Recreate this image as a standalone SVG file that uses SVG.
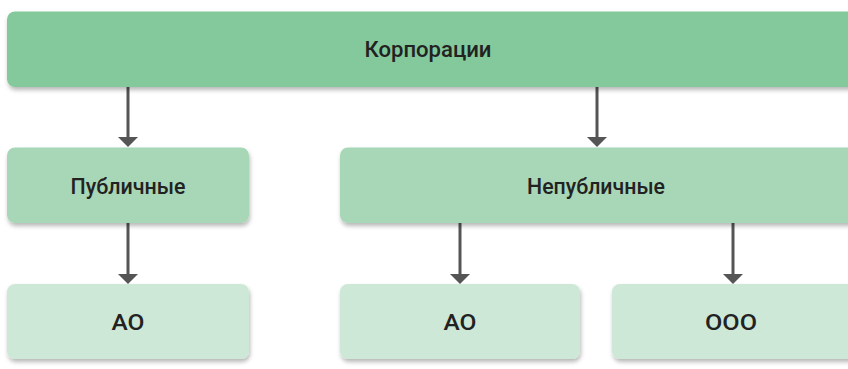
<svg xmlns="http://www.w3.org/2000/svg" width="848" height="369" viewBox="0 0 848 369">
  <defs>
    <filter id="sh" x="-5%" y="-10%" width="110%" height="130%">
      <feDropShadow dx="1" dy="3" stdDeviation="2" flood-color="#000" flood-opacity="0.28"/>
    </filter>
    <style>
      .n1 { fill: #83c99b; }
      .n2 { fill: #a8d7b7; }
      .n3 { fill: #cde8d6; }
      .box { filter: url(#sh); }
      .t { font-family: "Roboto", "Liberation Sans", sans-serif; font-size: 21.5px; font-weight: 500; fill: #222; text-anchor: middle; }
      .c line { stroke: #555; stroke-width: 3; }
      .c path { fill: #555; }
    </style>
  </defs>
  <rect width="848" height="369" fill="#fff"/>
  <g id="connectors" class="c">
    <line x1="128" y1="87" x2="128" y2="137"/>
    <path d="M118,137 L138,137 L128,147 Z"/>
    <line x1="597" y1="87" x2="597" y2="137"/>
    <path d="M587,137 L607,137 L597,147 Z"/>
    <line x1="128" y1="223" x2="128" y2="274"/>
    <path d="M118,274 L138,274 L128,284 Z"/>
    <line x1="460" y1="223" x2="460" y2="274"/>
    <path d="M450,274 L470,274 L460,284 Z"/>
    <line x1="733" y1="223" x2="733" y2="274"/>
    <path d="M723,274 L743,274 L733,284 Z"/>
  </g>
  <g id="corporations">
    <rect class="box n1" x="7" y="11.5" width="860" height="75.5" rx="8"/>
    <text class="t" x="428" y="57" textLength="127" lengthAdjust="spacingAndGlyphs">Корпорации</text>
  </g>
  <g id="public">
    <rect class="box n2" x="7" y="147.5" width="242" height="75.5" rx="8"/>
    <text class="t" x="128" y="194" textLength="115" lengthAdjust="spacingAndGlyphs">Публичные</text>
  </g>
  <g id="nonpublic">
    <rect class="box n2" x="340" y="147.5" width="540" height="75.5" rx="8"/>
    <text class="t" x="596" y="194" textLength="138" lengthAdjust="spacingAndGlyphs">Непубличные</text>
  </g>
  <g id="ao-public">
    <rect class="box n3" x="7" y="284" width="242" height="75" rx="8"/>
    <text class="t" x="128" y="330" textLength="33" lengthAdjust="spacingAndGlyphs">АО</text>
  </g>
  <g id="ao-nonpublic">
    <rect class="box n3" x="340" y="284" width="240" height="75" rx="8"/>
    <text class="t" x="460" y="330" textLength="33" lengthAdjust="spacingAndGlyphs">АО</text>
  </g>
  <g id="ooo">
    <rect class="box n3" x="612" y="284" width="260" height="75" rx="8"/>
    <text class="t" x="731" y="330" textLength="52" lengthAdjust="spacingAndGlyphs">ООО</text>
  </g>
</svg>
